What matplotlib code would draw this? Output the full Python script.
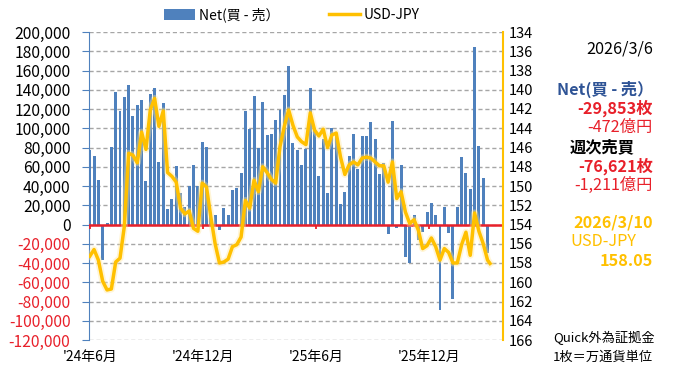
import numpy as np
import pandas as pd
import matplotlib
matplotlib.use('Agg')
import matplotlib.pyplot as plt
from matplotlib.patches import Patch
from matplotlib.lines import Line2D

plt.rcParams['font.family'] = ['Noto Sans CJK JP', 'DejaVu Sans']

# weekly net position (buy - sell), units = 枚
net_dates = pd.date_range('2024-05-31', '2026-03-06', freq='W-FRI')
net = [77000, 71000, 46000, -37000, 1700, 81000, 138000, 118000, 132000, 145000,
       113000, 124000, 129000, 45000, 136000, 142000, 65000, 126000, 16000, 27000,
       61000, 33000, 18000, 40000, 62000, 40000, 86000, 81000, 12000, 10000,
       -6000, 17000, 10000, 36000, 38000, 53000, 118000, 99000, 133000, 80000,
       127000, 93000, 94000, 109000, 119000, 135000, 165000, 85000, 77000, 62000,
       78000, 142000, 98000, 50000, 89000, 33000, 100000, 95000, 21000, 34000,
       71000, 94000, 58000, 92000, 92000, 107000, 89000, 52000, 64000, -10000,
       108000, -4000, 62000, -34000, -40000, 10000, -16000, -8000, 13000, 22000,
       10000, -89000, 18000, -9000, -77000, 18000, 70000, 53000, 37000, 184000,
       82000, 48000, -29853]

# USD-JPY (weekly + latest)
fx_dates = list(net_dates) + [pd.Timestamp('2026-03-10')]
usdjpy = [157.3, 156.6, 157.7, 159.9, 160.8, 160.7, 157.9, 157.5, 154.2, 146.6,
          146.8, 147.6, 144.4, 146.2, 142.1, 140.9, 143.8, 142.2, 148.6, 149.0,
          149.6, 152.3, 152.9, 152.6, 154.4, 154.7, 149.7, 150.1, 153.2, 156.0,
          158.0, 157.9, 157.6, 156.3, 156.1, 155.3, 151.5, 152.3, 149.4, 150.6,
          148.0, 148.6, 149.3, 149.7, 145.9, 143.8, 142.1, 143.7, 144.9, 145.4,
          145.7, 142.4, 144.2, 144.8, 144.1, 146.0, 144.7, 144.5, 147.0, 148.8,
          147.8, 147.5, 147.8, 147.1, 147.0, 147.1, 147.5, 147.9, 147.9, 149.6,
          147.5, 151.3, 150.6, 152.7, 153.9, 153.5, 154.6, 156.5, 156.2, 155.4,
          156.3, 157.7, 156.5, 156.9, 158.0, 158.0, 156.1, 154.8, 157.2, 152.8,
          154.7, 156.0, 157.7, 158.05]

xtick_dates = pd.to_datetime(['2024-06-01', '2024-12-01', '2025-06-01', '2025-12-01'])
xtick_labels = ["'24年6月", "'24年12月", "'25年6月", "'25年12月"]
left_ticks = list(range(-120000, 200001, 20000))
right_ticks = list(range(134, 167, 2))

blue = '#4F81BD'
yellow = '#FFC000'
red = '#E8202A'

W, H = 689, 372
fig = plt.figure(figsize=(W / 100, H / 100), dpi=100)
ax = fig.add_axes([88.5 / W, 1 - 340 / H, (503 - 88.5) / W, (340 - 32) / H])

ax.bar(net_dates, net, width=4.8, color=blue, zorder=2)
ax.axhline(0, color=red, lw=1.8, zorder=3)
ax.vlines(xtick_dates, -4500, 0, color=red, lw=1.3, zorder=3)

ax.set_ylim(-120000, 200000)
ax.set_xlim(pd.Timestamp('2024-05-29'), pd.Timestamp('2026-03-31'))
ax.set_yticks(left_ticks, labels=[f'{v:,}' for v in left_ticks])
for lab, v in zip(ax.get_yticklabels(), left_ticks):
    lab.set_color(red if v < 0 else 'black')
ax.yaxis.grid(True, color='#A6A6A6', ls=(0, (3, 2)), lw=1)
ax.set_axisbelow(True)
ax.tick_params(axis='y', length=5, color=blue, labelsize=11.3, pad=8)
ax.set_xticks(xtick_dates, labels=xtick_labels)
ax.tick_params(axis='x', length=0, labelsize=10, pad=7)
for s in ['top', 'right', 'bottom']:
    ax.spines[s].set_visible(False)
ax.spines['left'].set_color(blue)

ax2 = ax.twinx()
ax2.plot(fx_dates, usdjpy, color='#FFE699', lw=5, alpha=0.4, solid_joinstyle='round')
ax2.plot(fx_dates, usdjpy, color=yellow, lw=2.5, solid_joinstyle='round')
ax2.set_ylim(166, 134)
ax2.set_yticks(right_ticks)
ax2.tick_params(axis='y', length=0, labelsize=10.5, pad=4)
for s in ['top', 'left', 'bottom']:
    ax2.spines[s].set_visible(False)
ax2.spines['right'].set_color(yellow)
ax2.spines['right'].set_linewidth(1.5)

handles = [Patch(facecolor=blue), Line2D([], [], color=yellow, lw=2.5)]
fig.legend(handles, ['Net(買 - 売）', 'USD-JPY'], loc='center',
           bbox_to_anchor=(292 / W, 1 - 15 / H), ncol=2, frameon=False,
           fontsize=10, handlelength=2.2, handleheight=0.8, handletextpad=0.3,
           columnspacing=3.6)

def txt(x, y, s, color='black', ha='right', bold=False, size=11.7):
    fig.text(x / W, 1 - y / H, s, color=color, ha=ha, va='center',
             fontsize=size, fontweight='bold' if bold else 'normal')

txt(653, 49, '2026/3/6')
txt(653, 89, 'Net(買 - 売）', color='#2F5496', bold=True)
txt(653, 108, '-29,853枚', color=red, bold=True)
txt(653, 127, '-472億円', color=red)
txt(570, 147, '週次売買', ha='left', bold=True)
txt(653, 166, '-76,621枚', color=red, bold=True)
txt(653, 185, '-1,211億円', color=red)
txt(653, 222, '2026/3/10', color=yellow, bold=True)
txt(570, 242, 'USD-JPY', color=yellow, ha='left')
txt(653, 261, '158.05', color=yellow, bold=True)
txt(553, 338, 'Quick外為証拠金', ha='left', size=9.5)
txt(553, 357, '1枚＝万通貨単位', ha='left', size=9.5)

fig.savefig('out.png', dpi=100)
